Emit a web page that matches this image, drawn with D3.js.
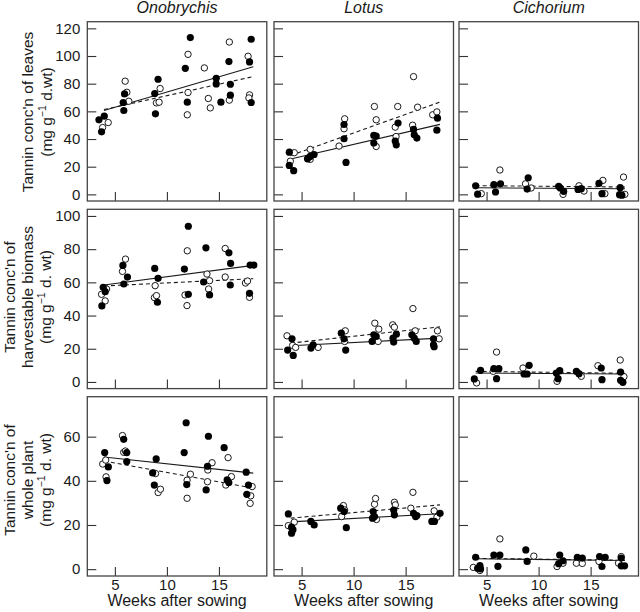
<!DOCTYPE html>
<html><head><meta charset="utf-8">
<script src="https://cdn.jsdelivr.net/npm/d3@7"></script>
<style>
body{margin:0;background:#fff;}
svg{display:block;font-family:"Liberation Sans",Arial,Helvetica,sans-serif;}
</style></head>
<body><svg id="chart" width="640" height="612"></svg>
<script>
// ---- categories ----
const species = ["Onobrychis", "Lotus", "Cichorium"];
const tissues = ["leaves", "harvestable", "whole"];
const xTicks = [5, 10, 15];
const yTicksLeaves = [0, 20, 40, 60, 80, 100, 120];
const yTicksHarvest = [0, 20, 40, 60, 80, 100];
const yTicksWhole = [0, 20, 40, 60];
const lineWeeks = [3.95, 18.3];

// ---- points: [week, tannin] ; filled = closed symbols, open = open symbols ----
const onoLeavesFilled = [[3.47,53.9],[3.98,56.5],[3.72,45.2],[5.8,66.4],[5.93,72.6],[5.86,60.6],[8.83,72.9],[9.15,83.2],[8.9,58.2],[12.25,113.3],[11.77,91.1],[11.96,66.6],[14.74,83.9],[14.74,79.8],[15.19,66.6],[15.96,96],[16.1,79.6],[16.1,71.7],[18.1,112.1],[17.94,95.7],[18.1,66.4]];
const onoLeavesOpen = [[3.82,48.3],[4.36,51.9],[5.99,81.8],[6.15,73.8],[6.34,67.3],[9.35,76.5],[8.99,66.1],[9.25,66.6],[12.03,101.2],[12.03,73.6],[11.96,57.5],[13.6,91.4],[13.98,69.3],[14.17,62.5],[16.0,110.1],[16.0,68.1],[17.8,99.8],[17.94,71.9],[17.88,69.7]];
const lotLeavesFilled = [[3.82,30.5],[3.82,20.9],[4.24,17.1],[5.57,25.7],[5.83,27.4],[6.2,28.8],[9.08,50.5],[9.08,40.2],[9.27,23.1],[11.94,42.6],[12.17,42.1],[11.94,37.1],[14.0,38.5],[14.1,35.8],[14.27,51.5],[15.76,46.9],[15.83,43.1],[16.08,40.7],[18.06,55.1],[18.0,46.4]];
const lotLeavesOpen = [[3.92,24.0],[4.3,30.1],[5.83,32.5],[5.83,25.3],[8.6,34.9],[9.14,54.6],[9.08,47.4],[12.0,63.5],[12.17,53.9],[12.17,34.6],[14.0,48.6],[14.24,63.5],[14.08,41.8],[15.76,85.1],[15.67,50.0],[16.15,63.0],[17.6,57.5],[18.0,59.6]];
const cicLeavesFilled = [[3.95,6.2],[4.14,0.1],[5.7,7.0],[5.86,1.7],[6.34,7.6],[9.0,12.0],[8.9,3.8],[11.93,5.8],[12.09,4.6],[12.41,2.2],[13.79,3.6],[14.1,4.1],[15.8,7.9],[16.09,0.5],[17.84,4.8],[17.78,-0.2],[18.0,-0.6]];
const cicLeavesOpen = [[4.49,0.5],[6.28,17.6],[8.74,7.6],[9.28,4.6],[12.35,0],[13.88,6.2],[14.36,2.4],[16.18,10.1],[16.37,0.5],[18.16,12.5],[18.29,0]];

const onoHarvFilled = [[3.75,45.8],[3.88,57],[4.07,54.4],[5.77,70.2],[5.86,59],[6.21,63.2],[8.83,68.4],[9.15,62.4],[9.09,48],[11.68,68],[12.06,93.8],[12.06,52.8],[13.53,60.2],[13.75,80.8],[14.1,52.4],[15.96,77.8],[16.12,71.4],[16.09,58.4],[18.0,70.4],[18.35,70.4],[17.94,53.4]];
const onoHarvOpen = [[3.72,52.8],[4.07,48.8],[4.2,56],[5.73,66.6],[6.02,74],[8.87,58],[8.8,50.8],[9.0,52],[11.74,52.4],[11.96,79],[11.93,46],[13.85,65],[14.01,56],[14.1,61],[15.6,80.4],[15.6,63.2],[17.55,59.6],[17.75,60.8],[17.94,51]];
const lotHarvFilled = [[3.66,19.2],[4.08,26],[4.2,16],[5.9,20.4],[6.11,22.4],[8.82,29.4],[9.08,26],[9.24,19.2],[11.78,24.4],[11.94,28.4],[12.17,27.4],[13.79,26.4],[13.85,24],[14.11,28.8],[15.6,28.4],[15.83,26.4],[16.02,24.4],[17.68,26],[17.68,22.4],[17.74,21.2]];
const lotHarvOpen = [[3.6,27.8],[4.14,22],[4.43,20.8],[6.59,20.8],[9.2,30.8],[9.14,24.4],[12.04,35.4],[12.42,31.8],[12.36,24.4],[13.76,34.4],[13.92,33],[15.7,44.2],[15.92,30.8],[18.06,30.8],[18.22,26]];
const cicHarvFilled = [[3.82,1.8],[4.42,7],[5.7,8],[5.96,2],[6.18,8],[8.6,4.8],[8.9,4.8],[9.09,10],[11.71,5.4],[12.03,6.8],[11.87,2],[13.63,6.4],[13.88,5],[16.02,8.4],[16.09,1.4],[17.88,6],[17.88,1],[18.1,-0.2]];
const cicHarvOpen = [[4.04,-0.6],[5.96,18],[5.64,6.4],[8.5,8.4],[11.77,0.4],[14.1,3.4],[15.7,9.8],[17.84,13.2],[18.2,3.2]];

const onoWholeFilled = [[4.02,52.8],[4.37,46.3],[4.24,40.1],[5.85,58.8],[6.14,52.8],[6.14,48.7],[8.63,43.6],[8.97,49.9],[8.79,38.1],[11.85,66.3],[11.66,52.8],[11.91,38.3],[13.99,60.2],[13.9,46.6],[13.77,35.9],[15.5,55],[15.79,40.4],[15.95,39.2],[17.62,43.9],[17.68,33.9],[17.84,38.1]];
const onoWholeOpen = [[3.83,47.6],[4.12,49.4],[4.15,41.8],[5.73,60.5],[5.85,52.9],[6.01,53.5],[8.91,43.3],[9.16,34.7],[9.38,36.2],[11.94,40.3],[11.94,32.1],[12.26,43],[13.93,44.9],[13.9,39.6],[14.34,48.2],[15.66,38.1],[15.88,50.5],[16.2,41.9],[18.06,33.2],[18.0,29.8],[18.19,37.4]];
const lotWholeFilled = [[3.73,25],[4.04,19],[4.04,16.3],[4.17,17.9],[5.89,21.6],[6.21,20],[8.76,27.6],[9.08,26.1],[9.3,18.8],[11.88,26.1],[11.82,23.1],[12.01,23.8],[13.85,26.8],[13.92,24.6],[15.76,25.3],[15.96,23.8],[16.08,24.3],[17.52,21.6],[17.77,21.6],[18.31,25.3]];
const lotWholeOpen = [[3.73,19.7],[4.3,21.3],[8.85,23.8],[9.02,28.8],[9.14,26.8],[12.01,29.4],[12.11,32],[12.2,22.5],[13.92,30.3],[14.01,29.1],[15.7,34.8],[15.5,27.6],[17.74,26.4],[18.0,23.5]];
const cicWholeFilled = [[3.95,5.4],[4.14,0.4],[4.36,1.6],[4.42,0.1],[5.7,6.4],[6.09,1.3],[6.28,6.4],[8.77,8.7],[8.9,3.5],[12.03,6.4],[11.93,2.5],[12.35,3.8],[13.72,5.4],[14.2,5],[15.86,5.7],[16.09,1.2],[16.4,5.4],[17.94,5],[17.94,1.5],[18.26,1.5]];
const cicWholeOpen = [[3.72,0.8],[4.36,-0.6],[6.28,13.7],[9.54,5.9],[11.77,1.2],[12.35,2.7],[13.63,2.7],[14.2,2.6],[15.8,3.5],[17.94,5.7],[17.68,2.7]];

// ---- fitted lines: tannin at lineWeeks[0] and lineWeeks[1] ----
const solidLines = [[60.6,92.3],[25.5,50.6],[4.8,4.1],[58.4,70.2],[21.8,26.4],[5.4,4.8],[50.8,43.5],[21.4,25.1],[4.7,3.9]];
const dashedLines = [[61.3,85.1],[28.1,66.7],[6.3,5.3],[57.8,62.2],[23.4,33.2],[6.4,5.2],[49.0,36.7],[23.1,29.1],[4.9,4.0]];

// ---- layout ----
const svg = d3.select("#chart");
const colX = [87.3, 274, 459];
const rowY = [21.7, 209.3, 396.7];
const pw = 179.5, ph = 179.3;
const yDomains = [[-4.8,124.8],[-4,104],[-3.1,78.1]];
const yTicksAll = [yTicksLeaves, yTicksHarvest, yTicksWhole];
const filledSets = [[onoLeavesFilled,lotLeavesFilled,cicLeavesFilled],[onoHarvFilled,lotHarvFilled,cicHarvFilled],[onoWholeFilled,lotWholeFilled,cicWholeFilled]];
const openSets = [[onoLeavesOpen,lotLeavesOpen,cicLeavesOpen],[onoHarvOpen,lotHarvOpen,cicHarvOpen],[onoWholeOpen,lotWholeOpen,cicWholeOpen]];
const ink = "#1a1a1a";

for (let r = 0; r < 3; r++) {
  for (let c = 0; c < 3; c++) {
    const g = svg.append("g").attr("transform", `translate(${colX[c]},${rowY[r]})`);
    const x = d3.scaleLinear().domain([2.35, 19.6]).range([0, pw]);
    const y = d3.scaleLinear().domain(yDomains[r]).range([ph, 0]);

    const ya = d3.axisLeft(y).tickValues(yTicksAll[r]).tickSize(-9).tickPadding(7);
    if (c > 0) ya.tickFormat("");
    const yg = g.append("g").call(ya);
    const xa = d3.axisBottom(x).tickValues(xTicks).tickSize(-9).tickPadding(3);
    if (r < 2) xa.tickFormat("");
    const xg = g.append("g").attr("transform", `translate(0,${ph})`).call(xa);
    [yg, xg].forEach(a => {
      a.select(".domain").remove();
      a.selectAll("line").attr("stroke", "#333").attr("stroke-width", 1.1);
      a.selectAll("text").attr("fill", ink).style("font-size", "15px").style("font-family", "Liberation Sans, Arial, sans-serif");
    });

    // fitted lines
    const k = r * 3 + c;
    const line = d3.line().x(d => x(d[0])).y(d => y(d[1]));
    g.append("path").datum(lineWeeks.map((w, i) => [w, dashedLines[k][i]]))
      .attr("d", line).attr("fill", "none").attr("stroke", ink).attr("stroke-width", 1.1)
      .attr("stroke-dasharray", "4,3");
    g.append("path").datum(lineWeeks.map((w, i) => [w, solidLines[k][i]]))
      .attr("d", line).attr("fill", "none").attr("stroke", ink).attr("stroke-width", 1.1);

    // points
    g.selectAll("circle.open").data(openSets[r][c]).join("circle").attr("class", "open")
      .attr("cx", d => x(d[0])).attr("cy", d => y(d[1])).attr("r", 3.2)
      .attr("fill", "#fff").attr("stroke", ink).attr("stroke-width", 1);
    g.selectAll("circle.filled").data(filledSets[r][c]).join("circle").attr("class", "filled")
      .attr("cx", d => x(d[0])).attr("cy", d => y(d[1])).attr("r", 3.6)
      .attr("fill", "#000");

    // frame
    g.append("rect").attr("width", pw).attr("height", ph)
      .attr("fill", "none").attr("stroke", "#444").attr("stroke-width", 1.3);
  }
}

// column titles
species.forEach((s, c) => {
  svg.append("text").attr("x", colX[c] + pw / 2).attr("y", 13)
    .attr("text-anchor", "middle").attr("font-style", "italic")
    .style("font-size", "16px").attr("fill", ink).text(s);
});

// x titles
for (let c = 0; c < 3; c++) {
  svg.append("text").attr("x", colX[c] + pw / 2).attr("y", 605.5)
    .attr("text-anchor", "middle").style("font-size", "16px").attr("fill", ink)
    .text("Weeks after sowing");
}

// y titles
const yTitleLines = [
  ["Tannin conc'n of leaves", "UNIT:(mg g|−1|d.wt)"],
  ["Tannin conc'n of", "harvestable biomass", "UNIT:(mg g|−1|d. wt)"],
  ["Tannin conc'n of", "whole plant", "UNIT:(mg g|−1|d. wt)"]
];
const yTitleBase = [[32.5, 51.5], [15, 33, 51], [15, 33, 51]];
const yTitleCenter = [112, 297, 480];
yTitleLines.forEach((lines, r) => {
  lines.forEach((ln, i) => {
    const t = svg.append("text")
      .attr("transform", `translate(${yTitleBase[r][i]},${yTitleCenter[r]}) rotate(-90)`)
      .attr("text-anchor", "middle").style("font-size", "15.5px").attr("fill", ink);
    if (ln.startsWith("UNIT:")) {
      const parts = ln.slice(5).split("|");
      t.append("tspan").text(parts[0]);
      t.append("tspan").attr("dy", -6).style("font-size", "10.5px").text(parts[1]);
      t.append("tspan").attr("dy", 6).text(" " + parts[2]);
    } else {
      t.text(ln);
    }
  });
});
</script>
</body></html>
